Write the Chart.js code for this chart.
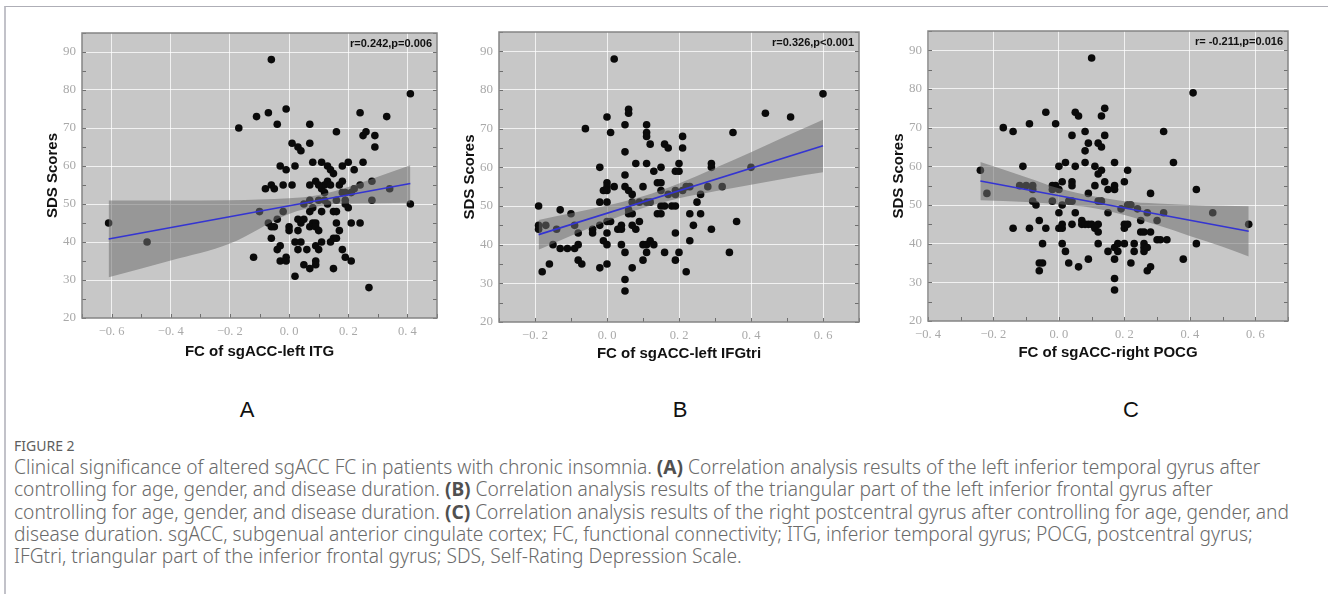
<!DOCTYPE html>
<html>
<head>
<meta charset="utf-8">
<script src="https://cdn.jsdelivr.net/npm/chart.js@4.4.1/dist/chart.umd.min.js"></script>
<style>
  body { margin: 0; background: #fff; width: 1328px; height: 594px; overflow: hidden; position: relative; }
  #frame { position: absolute; left: 4px; top: 6px; width: 1330px; height: 600px; border-top: 1px solid #aeaeb6; border-left: 2px solid #c2c2c9; }
  canvas.plot { position: absolute; left: 0; top: 0; }
  .letter { position: absolute; top: 398px; width: 40px; margin-left: -20px; text-align: center; font: 22px "Liberation Sans", Arial, sans-serif; line-height: 24px; color: #111; }
  #fig { position: absolute; left: 14px; top: 437px; font: 14px "Noto Sans", sans-serif; color: #5e5e5e; line-height: 18px; }
  #cap { position: absolute; left: 14px; top: 456px; font-family: "Noto Sans", sans-serif; font-weight: 300; font-size: 15.5px; line-height: 22.3px; color: #6a6a6a; white-space: nowrap; }
  #cap b { color: #505050; font-weight: 700; }
</style>
</head>
<body>
<div id="frame"></div>
<canvas id="chartA" class="plot" width="1328" height="380"></canvas>
<canvas id="chartB" class="plot" width="1328" height="380"></canvas>
<canvas id="chartC" class="plot" width="1328" height="380"></canvas>
<div class="letter" style="left:247px">A</div>
<div class="letter" style="left:680px">B</div>
<div class="letter" style="left:1131px">C</div>
<div id="fig">FIGURE 2</div>
<div id="cap">
<span>Clinical significance of altered sgACC FC in patients with chronic insomnia. <b>(A)</b> Correlation analysis results of the left inferior temporal gyrus after</span><br>
<span>controlling for age, gender, and disease duration. <b>(B)</b> Correlation analysis results of the triangular part of the left inferior frontal gyrus after</span><br>
<span id="longLine">controlling for age, gender, and disease duration. <b>(C)</b> Correlation analysis results of the right postcentral gyrus after controlling for age, gender, and</span><br>
<span>disease duration. sgACC, subgenual anterior cingulate cortex; FC, functional connectivity; ITG, inferior temporal gyrus; POCG, postcentral gyrus;</span><br>
<span>IFGtri, triangular part of the inferior frontal gyrus; SDS, Self-Rating Depression Scale.</span>
</div>
<script>
// SDS scores shared tick labels
const yTicks = [20, 30, 40, 50, 60, 70, 80, 90];

// ---- panel A : FC of sgACC-left ITG ----
const aFc = [-0.61, -0.48, -0.06, 0.41, 0.41, -0.17, -0.11, -0.07, -0.01, -0.04, 0.07, 0.24, 0.33, 0.16, 0.25, 0.26, 0.29, 0.29, 0.01, 0.07,
  0.03, 0.04, -0.03, -0.01, 0.02, 0.08, 0.11, 0.13, 0.14, 0.15, 0.18, 0.20, 0.22, 0.25, -0.08, -0.06, -0.05, -0.02, 0.01, 0.07,
  0.09, 0.11, 0.12, 0.12, 0.13, 0.14, 0.17, 0.18, 0.21, 0.22, 0.24, 0.28, 0.34, 0.28, -0.10, -0.02, -0.04, -0.07, -0.06, -0.05,
  -0.06, -0.04, -0.03, -0.12, -0.03, -0.01, -0.01, 0.02, 0.00, 0.00, 0.03, 0.04, 0.05, 0.03, 0.02, 0.04, 0.03, 0.06, 0.05, 0.07,
  0.09, 0.09, 0.07, 0.08, 0.09, 0.09, 0.10, 0.09, 0.10, 0.11, 0.07, 0.08, 0.11, 0.10, 0.12, 0.07, 0.05, 0.13, 0.15, 0.16,
  0.16, 0.16, 0.17, 0.15, 0.16, 0.14, 0.18, 0.19, 0.21, 0.15, 0.19, 0.19, 0.20, 0.21, 0.24, 0.18, 0.27, 0.10, 0.19];
const aSds = [45, 40, 88, 79, 50, 70, 73, 74, 75, 71, 71, 74, 73, 69, 68, 69, 68, 65, 66, 66,
  65, 64, 60, 59, 60, 61, 61, 60, 59, 58, 60, 61, 59, 61, 54, 55, 54, 55, 55, 55,
  56, 54, 55, 53, 56, 55, 55, 56, 53, 54, 55, 56, 54, 51, 48, 48, 46, 45, 44, 44,
  41, 38, 39, 36, 35, 36, 35, 31, 44, 43, 46, 45, 46, 43, 40, 40, 38, 38, 34, 33,
  35, 34, 44, 45, 45, 44, 43, 39, 38, 40, 48, 49, 48, 51, 51, 51, 50, 50, 48, 48,
  51, 45, 43, 41, 41, 40, 38, 36, 35, 33, 51, 50, 49, 45, 45, 53, 28, 55, 53];
const aLineX = [-0.61, 0.41];
const aLineY = [40.8, 55.4];
const aBandX = [-0.61, -0.4, -0.2, 0.0, 0.1, 0.2, 0.3, 0.41];
const aBandUp = [50.9, 50.9, 51.0, 51.5, 52.4, 54.5, 57.2, 60.2];
const aBandLo = [30.7, 35.1, 39.6, 47.4, 49.4, 50.1, 50.2, 50.3];
const aXTicks = [-0.6, -0.4, -0.2, 0.0, 0.2, 0.4];

// ---- panel B : FC of sgACC-left IFGtri ----
const bFc = [-0.19, -0.19, -0.19, -0.17, -0.18, -0.16, -0.15, -0.14, -0.13, -0.13, -0.11, -0.10, -0.09, -0.09, -0.08, -0.08, -0.08, -0.07, -0.06, -0.04,
  -0.04, -0.02, -0.02, -0.02, -0.02, -0.01, -0.01, 0.00, 0.00, 0.00, 0.00, 0.00, 0.00, 0.00, 0.01, 0.00, 0.00, 0.01, 0.02, 0.02,
  0.03, 0.04, 0.04, 0.04, 0.05, 0.05, 0.05, 0.05, 0.05, 0.05, 0.05, 0.06, 0.07, 0.06, 0.06, 0.06, 0.06, 0.07, 0.07, 0.07,
  0.08, 0.07, 0.08, 0.09, 0.09, 0.10, 0.10, 0.11, 0.12, 0.13, 0.10, 0.11, 0.11, 0.11, 0.11, 0.11, 0.11, 0.12, 0.12, 0.13,
  0.14, 0.15, 0.14, 0.15, 0.15, 0.15, 0.15, 0.16, 0.16, 0.17, 0.16, 0.17, 0.18, 0.19, 0.19, 0.20, 0.19, 0.19, 0.19, 0.19,
  0.20, 0.20, 0.21, 0.21, 0.21, 0.22, 0.23, 0.22, 0.23, 0.23, 0.24, 0.25, 0.26, 0.26, 0.28, 0.29, 0.29, 0.29, 0.32, 0.34,
  0.35, 0.36, 0.40, 0.44, 0.51, 0.60];
const bSds = [50, 45, 44, 45, 33, 35, 40, 44, 49, 39, 39, 48, 45, 39, 40, 43, 36, 35, 70, 44,
  43, 60, 51, 45, 34, 54, 41, 40, 73, 56, 55, 54, 51, 46, 46, 43, 35, 69, 55, 88,
  44, 44, 45, 40, 38, 31, 28, 71, 64, 58, 55, 54, 53, 75, 74, 49, 48, 48, 51, 45,
  44, 34, 61, 51, 46, 55, 40, 40, 41, 40, 36, 38, 71, 69, 68, 61, 51, 51, 66, 59,
  56, 56, 48, 48, 60, 54, 50, 50, 66, 65, 38, 53, 50, 50, 59, 59, 54, 53, 43, 36,
  61, 38, 68, 65, 54, 55, 55, 33, 48, 41, 45, 51, 53, 48, 55, 61, 60, 44, 55, 38,
  69, 46, 60, 74, 73, 79];
const bLineX = [-0.19, 0.6];
const bLineY = [42.6, 65.6];
const bBandX = [-0.19, -0.1, 0.0, 0.1, 0.2, 0.3, 0.4, 0.5, 0.6];
const bBandUp = [46.4, 48.1, 50.1, 52.5, 55.8, 59.8, 63.9, 68.2, 72.3];
const bBandLo = [38.7, 42.3, 46.1, 49.5, 52.0, 53.8, 55.5, 57.2, 58.7];
const bXTicks = [-0.2, 0.0, 0.2, 0.4, 0.6];

// ---- panel C : FC of sgACC-right POCG ----
const cFc = [-0.24, -0.22, -0.17, -0.14, -0.14, -0.11, -0.12, -0.10, -0.08, -0.08, -0.08, -0.07, -0.09, -0.09, -0.06, -0.06, -0.05, -0.06, -0.05, -0.04,
  -0.04, -0.02, -0.01, -0.02, 0.00, -0.02, -0.01, 0.00, 0.00, 0.00, 0.01, 0.01, 0.01, 0.01, 0.01, 0.02, 0.02, 0.03, 0.03, 0.04,
  0.04, 0.04, 0.04, 0.04, 0.05, 0.06, 0.05, 0.05, 0.06, 0.07, 0.07, 0.08, 0.09, 0.10, 0.08, 0.08, 0.08, 0.09, 0.09, 0.09,
  0.10, 0.11, 0.11, 0.11, 0.12, 0.12, 0.13, 0.12, 0.13, 0.12, 0.13, 0.12, 0.12, 0.13, 0.14, 0.14, 0.14, 0.15, 0.15, 0.15,
  0.17, 0.17, 0.17, 0.17, 0.18, 0.18, 0.17, 0.17, 0.17, 0.19, 0.20, 0.20, 0.20, 0.21, 0.20, 0.21, 0.21, 0.22, 0.22, 0.23,
  0.23, 0.24, 0.25, 0.25, 0.26, 0.26, 0.26, 0.26, 0.27, 0.27, 0.27, 0.28, 0.28, 0.28, 0.30, 0.30, 0.31, 0.33, 0.32, 0.32,
  0.35, 0.38, 0.41, 0.42, 0.42, 0.47, 0.58];
const cSds = [59, 53, 70, 69, 44, 60, 55, 55, 55, 54, 51, 50, 71, 44, 46, 35, 35, 33, 40, 74,
  44, 55, 55, 54, 54, 51, 71, 60, 48, 44, 44, 45, 56, 50, 40, 38, 61, 35, 51, 51,
  56, 55, 68, 45, 74, 73, 60, 48, 34, 46, 45, 45, 45, 45, 69, 64, 61, 66, 53, 36,
  88, 60, 55, 44, 43, 66, 65, 58, 59, 51, 51, 45, 40, 73, 75, 68, 56, 54, 48, 38,
  61, 55, 54, 39, 40, 38, 36, 31, 28, 49, 56, 45, 44, 45, 40, 59, 50, 50, 35, 40,
  38, 49, 46, 43, 43, 40, 39, 38, 48, 39, 33, 34, 53, 43, 46, 41, 41, 41, 69, 48,
  61, 36, 79, 54, 40, 48, 45];
const cLineX = [-0.24, 0.58];
const cLineY = [56.2, 43.2];
const cBandX = [-0.24, -0.1, 0.0, 0.1, 0.2, 0.3, 0.4, 0.5, 0.58];
const cBandUp = [61.1, 57.2, 54.3, 52.3, 51.0, 50.4, 50.0, 49.8, 49.7];
const cBandLo = [51.2, 50.8, 50.2, 49.3, 47.4, 44.8, 42.0, 39.2, 36.7];
const cXTicks = [-0.4, -0.2, 0.0, 0.2, 0.4, 0.6];

const CANVAS_H = 380;
const Y_AXIS_W = 40;

function pairs(xs, ys) {
  return xs.map((x, i) => ({ x: x, y: ys[i] }));
}

function fcLabel(v) {
  const s = Math.abs(v).toFixed(1).replace('.', '. ');
  return (v < -1e-9 ? '\u2212' : '') + s;
}

const plotDecor = {
  id: 'plotDecor',
  beforeDraw(chart) {
    const a = chart.chartArea, ctx = chart.ctx;
    ctx.save();
    ctx.fillStyle = '#c7c7c7';
    ctx.fillRect(a.left, a.top, a.right - a.left, a.bottom - a.top);
    ctx.restore();
  },
  afterDraw(chart, args, opts) {
    const a = chart.chartArea, ctx = chart.ctx;
    const xs = chart.scales.x, ys = chart.scales.y;
    ctx.save();
    ctx.strokeStyle = '#6e6e6e';
    ctx.lineWidth = 1;
    ctx.beginPath();
    for (let i = 0; i <= 15; i++) {
      const py = Math.round(ys.getPixelForValue(20 + i * 5)) + 0.5;
      ctx.moveTo(a.left, py); ctx.lineTo(a.left + 4, py);
      ctx.moveTo(a.right, py); ctx.lineTo(a.right - 4, py);
    }
    const n = Math.round((xs.max - xs.min) * 10);
    for (let i = 0; i <= n; i++) {
      const px = Math.round(xs.getPixelForValue(xs.min + i / 10)) + 0.5;
      ctx.moveTo(px, a.bottom); ctx.lineTo(px, a.bottom - 4);
    }
    ctx.stroke();
    ctx.strokeStyle = '#858585';
    ctx.lineWidth = 1.5;
    ctx.strokeRect(a.left, a.top, a.right - a.left, a.bottom - a.top);
    ctx.fillStyle = '#111';
    ctx.font = 'bold 11px "Liberation Sans", Arial, sans-serif';
    ctx.textAlign = 'right';
    ctx.textBaseline = 'middle';
    ctx.fillText(opts.stat, a.right - 5, a.top + 11);
    ctx.restore();
  }
};

function makePanel(id, p) {
  const box = p.box;
  new Chart(document.getElementById(id), {
    type: 'line',
    data: {
      datasets: [
        {
          data: pairs(p.lineX, p.lineY),
          borderColor: '#3434d2', borderWidth: 1.6, pointRadius: 0, fill: false, order: 0
        },
        {
          data: pairs(p.bandX, p.bandUp),
          borderWidth: 0, borderColor: 'rgba(0,0,0,0)', pointRadius: 0,
          fill: '+1', backgroundColor: 'rgba(112,112,112,0.55)',
          cubicInterpolationMode: 'monotone', order: 1
        },
        {
          data: pairs(p.bandX, p.bandLo),
          borderWidth: 0, borderColor: 'rgba(0,0,0,0)', pointRadius: 0,
          fill: false, cubicInterpolationMode: 'monotone', order: 1
        },
        {
          data: pairs(p.fc, p.sds),
          showLine: false, pointRadius: 3.8, pointBorderWidth: 0,
          pointBackgroundColor: '#0a0a0a', order: 2
        }
      ]
    },
    options: {
      responsive: false,
      animation: false,
      events: [],
      layout: { padding: { left: box.left - Y_AXIS_W, right: 1328 - box.right, top: box.top, bottom: 0 } },
      plugins: { legend: { display: false }, tooltip: { enabled: false }, plotDecor: { stat: p.stat } },
      scales: {
        x: {
          type: 'linear', min: p.xMin, max: p.xMax,
          afterBuildTicks: s => { s.ticks = p.xTicks.map(v => ({ value: v })); },
          afterFit: s => { s.height = CANVAS_H - box.bottom; },
          ticks: {
            callback: v => fcLabel(v), color: '#a9a9a9', padding: 6, maxRotation: 0, autoSkip: false,
            font: { family: '"Liberation Serif", "DejaVu Serif", serif', size: 12.5 }
          },
          grid: { color: 'rgba(255,255,255,0.75)', lineWidth: 1, drawTicks: false },
          border: { display: false },
          title: {
            display: true, text: p.title, color: '#111',
            font: { family: '"Liberation Sans", Arial, sans-serif', size: 15, weight: 'bold' },
            padding: { top: 0, bottom: box.titleBottom }
          }
        },
        y: {
          type: 'linear', min: 20, max: 95,
          afterBuildTicks: s => { s.ticks = yTicks.map(v => ({ value: v })); },
          afterFit: s => { s.width = Y_AXIS_W; },
          ticks: {
            color: '#a9a9a9', padding: 6,
            font: { family: '"Liberation Serif", "DejaVu Serif", serif', size: 13 }
          },
          grid: { color: 'rgba(255,255,255,0.75)', lineWidth: 1, drawTicks: false },
          border: { display: false },
          title: {
            display: true, text: 'SDS Scores', color: '#111',
            font: { family: '"Liberation Sans", Arial, sans-serif', size: 15, weight: 'bold' },
            padding: { top: 2, bottom: 0 }
          }
        }
      }
    },
    plugins: [plotDecor]
  });
}

makePanel('chartA', {
  fc: aFc, sds: aSds, lineX: aLineX, lineY: aLineY, bandX: aBandX, bandUp: aBandUp, bandLo: aBandLo,
  xMin: -0.7, xMax: 0.5, xTicks: aXTicks, title: 'FC of sgACC-left ITG', stat: 'r=0.242,p=0.006',
  box: { left: 82, right: 437, top: 33, bottom: 318, titleBottom: 19 }
});
makePanel('chartB', {
  fc: bFc, sds: bSds, lineX: bLineX, lineY: bLineY, bandX: bBandX, bandUp: bBandUp, bandLo: bBandLo,
  xMin: -0.3, xMax: 0.7, xTicks: bXTicks, title: 'FC of sgACC-left IFGtri', stat: 'r=0.326,p<0.001',
  box: { left: 499, right: 859, top: 32, bottom: 322, titleBottom: 17 }
});
makePanel('chartC', {
  fc: cFc, sds: cSds, lineX: cLineX, lineY: cLineY, bandX: cBandX, bandUp: cBandUp, bandLo: cBandLo,
  xMin: -0.4, xMax: 0.7, xTicks: cXTicks, title: 'FC of sgACC-right POCG', stat: 'r= -0.211,p=0.016',
  box: { left: 928, right: 1288, top: 31, bottom: 321, titleBottom: 18 }
});

// fit caption width to the reference line length
const longLine = document.getElementById('longLine');
const w = longLine.getBoundingClientRect().width;
const cap = document.getElementById('cap');
cap.style.fontSize = (15.5 * 1276 / w).toFixed(2) + 'px';
</script>
</body>
</html>
